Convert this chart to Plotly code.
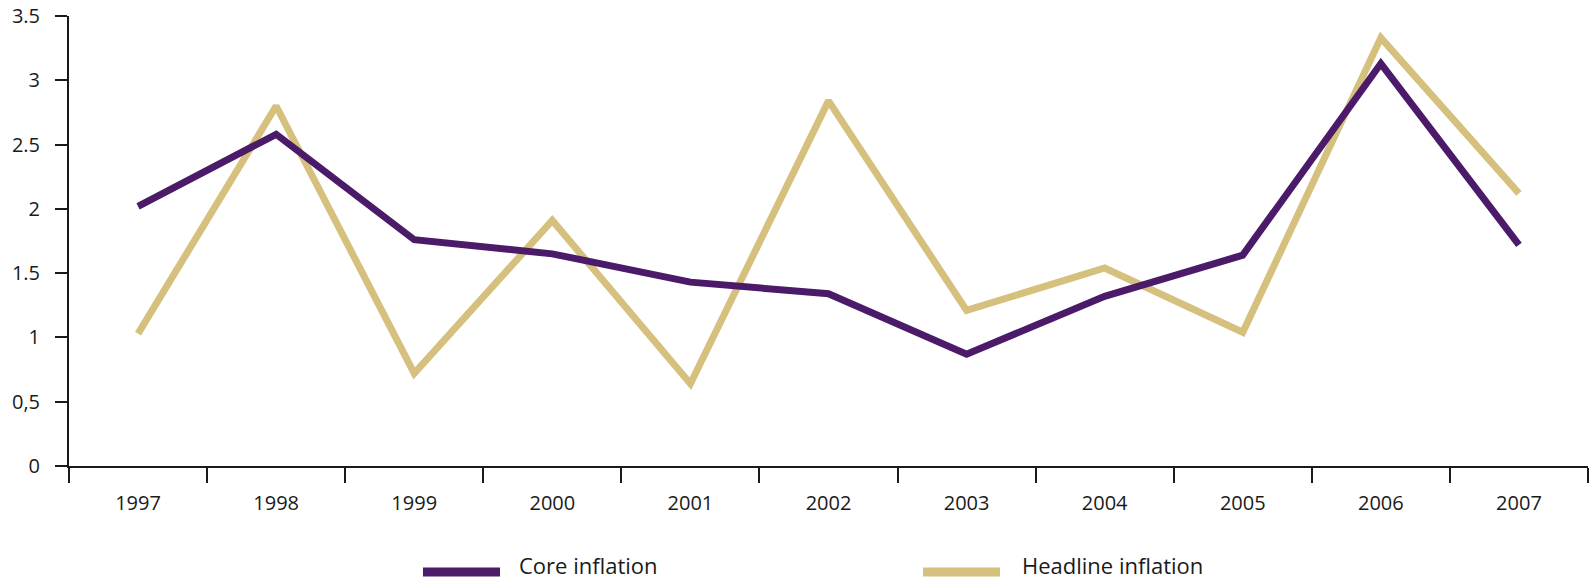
import plotly.graph_objects as go

# Annual inflation rates (%)
years = ["1997", "1998", "1999", "2000", "2001", "2002", "2003", "2004", "2005", "2006", "2007"]
core_inflation = [2.02, 2.58, 1.76, 1.65, 1.43, 1.34, 0.87, 1.32, 1.64, 3.13, 1.72]
headline_inflation = [1.03, 2.80, 0.72, 1.91, 0.64, 2.84, 1.21, 1.54, 1.04, 3.33, 2.12]

y_tick_values = [0, 0.5, 1, 1.5, 2, 2.5, 3, 3.5]
y_tick_labels = ["0", "0,5", "1", "1.5", "2", "2.5", "3", "3.5"]

series_names = ["Core inflation", "Headline inflation"]
PURPLE = "#4b1b69"
TAN = "#d5c07e"
FONT = "Open Sans, DejaVu Sans, sans-serif"

fig = go.Figure()
fig.add_trace(go.Scatter(x=years, y=headline_inflation, mode="lines",
                         name=series_names[1],
                         line=dict(color=TAN, width=7), showlegend=False))
fig.add_trace(go.Scatter(x=years, y=core_inflation, mode="lines",
                         name=series_names[0],
                         line=dict(color=PURPLE, width=7), showlegend=False))

W, H = 1591, 580
ML, MR, MT, MB = 69, 3, 16, 114
pw, ph = W - ML - MR, H - MT - MB


def px_x(x):
    return (x - ML) / pw


def px_y(y):
    return (H - MB - y) / ph


# Legend drawn below the axis: swatch + label per series
legend_items = [(series_names[0], PURPLE, 423, 500, 517),
                (series_names[1], TAN, 923, 1000, 1020)]
for name, color, x0, x1, tx in legend_items:
    fig.add_shape(type="line", xref="paper", yref="paper",
                  x0=px_x(x0), x1=px_x(x1), y0=px_y(572), y1=px_y(572),
                  line=dict(color=color, width=9))
    fig.add_annotation(xref="paper", yref="paper", x=px_x(tx), y=px_y(565),
                       text=name, showarrow=False, xanchor="left", yanchor="middle",
                       font=dict(family=FONT, size=22, color="#1a1a1a"))

fig.update_layout(
    width=W, height=H, autosize=False,
    margin=dict(l=ML, r=MR, t=MT, b=MB, pad=0),
    paper_bgcolor="white", plot_bgcolor="white",
    font=dict(family=FONT, size=20, color="#1a1a1a"),
    showlegend=False,
)
fig.update_xaxes(
    type="category", range=[-0.5, 10.5],
    showline=True, linecolor="#1a1a1a", linewidth=2,
    ticks="outside", tickson="boundaries", ticklen=15, tickwidth=2, tickcolor="#1a1a1a",
    showgrid=False, zeroline=False, ticklabelstandoff=18,
    tickfont=dict(family=FONT, size=20, color="#1a1a1a"),
)
fig.update_yaxes(
    range=[0, 3.5], tickvals=y_tick_values, ticktext=y_tick_labels,
    showline=True, linecolor="#1a1a1a", linewidth=2,
    ticks="outside", ticklen=12, tickwidth=2, tickcolor="#1a1a1a",
    showgrid=False, zeroline=False, ticklabelstandoff=11,
    tickfont=dict(family=FONT, size=20, color="#1a1a1a"),
)

fig.write_html("out.html")
